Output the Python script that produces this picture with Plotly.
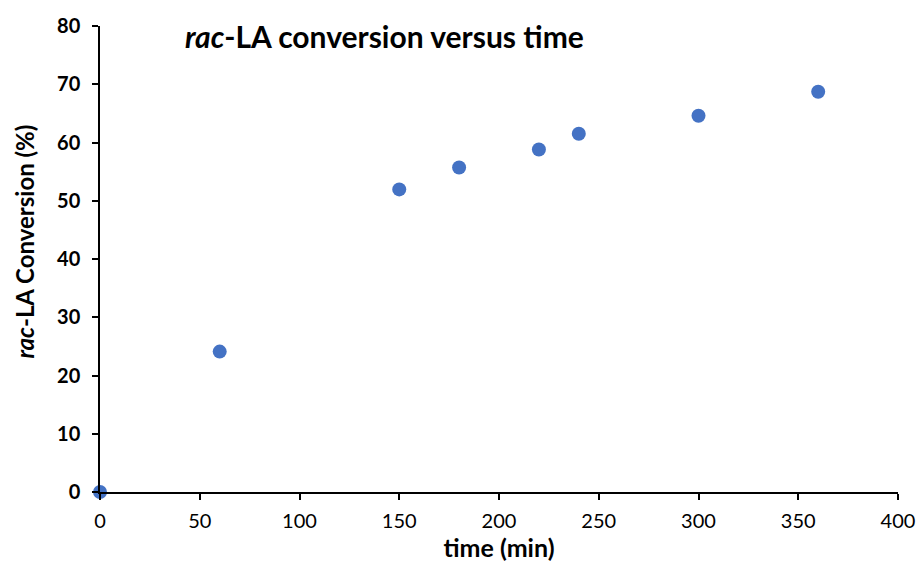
import plotly.graph_objects as go

# Reaction time (min) and rac-LA conversion (%)
time_min = [0, 60, 150, 180, 220, 240, 300, 360]
conversion = [0, 24.1, 51.95, 55.7, 58.8, 61.5, 64.6, 68.7]

x_ticks = [0, 50, 100, 150, 200, 250, 300, 350, 400]
y_ticks = [0, 10, 20, 30, 40, 50, 60, 70, 80]

FONT = "Lato, 'Open Sans', sans-serif"

fig = go.Figure()
fig.add_trace(go.Scatter(
    x=time_min, y=conversion, mode="markers",
    marker=dict(color="#4472C4", size=14),
    cliponaxis=False, showlegend=False,
))

fig.update_layout(
    width=922, height=563,
    margin=dict(l=100, r=24, t=26, b=71),
    plot_bgcolor="white", paper_bgcolor="white",
    font=dict(family=FONT, color="black"),
    xaxis=dict(
        range=[0, 400], tickvals=x_ticks, ticktext=[str(v) for v in x_ticks],
        automargin=False,
        showgrid=False, zeroline=False,
        showline=True, linecolor="black", linewidth=1.5,
        ticks="outside", ticklen=6, tickwidth=1.5, tickcolor="black",
        tickfont=dict(size=20, family=FONT), ticklabelstandoff=4,
        title=dict(text="<b>time (min)</b>", font=dict(size=25, family=FONT), standoff=2),
    ),
    yaxis=dict(
        range=[0, 80], tickvals=y_ticks, ticktext=[f"<b>{v}</b>" for v in y_ticks],
        automargin=False,
        showgrid=False, zeroline=False,
        showline=True, linecolor="black", linewidth=1.5,
        ticks="outside", ticklen=6, tickwidth=1.5, tickcolor="black",
        tickfont=dict(size=20, family=FONT), ticklabelstandoff=8,
    ),
    annotations=[
        dict(
            text="<b><i>rac</i>-LA conversion versus time</b>",
            xref="paper", yref="paper", x=0.104, y=0.978,
            xanchor="left", yanchor="middle", showarrow=False,
            font=dict(size=30, family=FONT, color="black"),
        ),
        # y-axis title, placed as a rotated annotation
        dict(
            text="<b><i>rac</i>-LA Conversion (%)</b>",
            xref="paper", yref="paper", x=-0.095, y=0.538,
            xanchor="center", yanchor="middle", textangle=-90, showarrow=False,
            font=dict(size=24, family=FONT, color="black"),
        ),
    ],
)

fig.write_html("out.html")
